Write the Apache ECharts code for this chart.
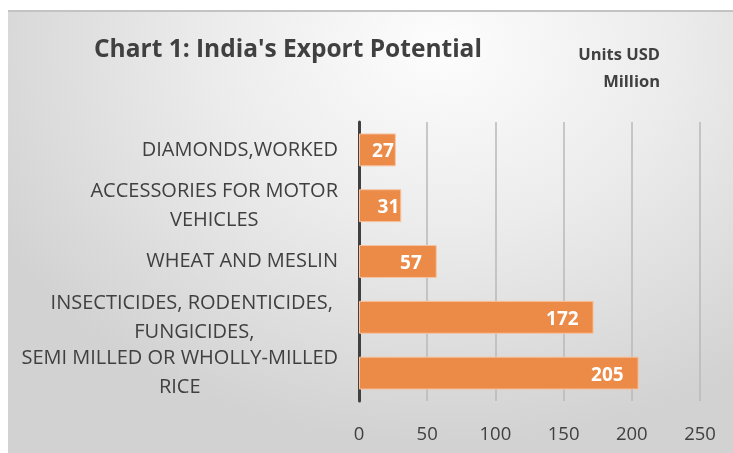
<!DOCTYPE html>
<html>
<head>
<meta charset="utf-8">
<script src="https://cdn.jsdelivr.net/npm/echarts@6/dist/echarts.min.js"></script>
<style>
  html, body { margin: 0; padding: 0; background: #fff; }
  #bg {
    position: absolute; left: 8px; top: 10px; width: 725px; height: 443px;
    box-sizing: border-box; border-top: 2px solid #c3c3c3;
    background: radial-gradient(ellipse 70% 90% at 60% 8%, #fdfdfd 0%, #ececec 45%, #d2d2d2 100%);
  }
  #main { position: absolute; left: 0; top: 0; width: 733px; height: 453px; }
</style>
</head>
<body>
<div id="bg"></div>
<div id="main"></div>
<script>
// Chart 1: India's Export Potential (USD million)
var categories = [
  'DIAMONDS,WORKED',
  'ACCESSORIES FOR MOTOR\nVEHICLES',
  'WHEAT AND MESLIN',
  'INSECTICIDES, RODENTICIDES, \nFUNGICIDES,',
  'SEMI MILLED OR WHOLLY-MILLED\nRICE'
];
var exportValues = [27, 31, 57, 172, 205];
var xTicks = { min: 0, max: 250, interval: 50 };

var FONT = '"Open Sans", sans-serif';
var chart = echarts.init(document.getElementById('main'));

var option = {
  backgroundColor: 'transparent',
  title: [
    {
      text: "Chart 1: India's Export Potential",
      left: 89, top: 33,
      textStyle: { fontFamily: FONT, fontSize: 24.5, fontWeight: 'bold', color: '#404040' }
    },
    {
      text: '{r|Units USD}\n{r|Million}',
      right: 68, top: 37,
      textStyle: {
        rich: {
          r: { align: 'right', fontFamily: FONT, fontSize: 16.5, fontWeight: 'bold', color: '#404040', lineHeight: 27 }
        }
      }
    }
  ],
  grid: { left: 359, right: 33, top: 122, bottom: 52 },
  xAxis: {
    type: 'value',
    min: xTicks.min, max: xTicks.max, interval: xTicks.interval,
    axisLine: { show: false },
    axisTick: { show: false },
    splitLine: { lineStyle: { color: '#b8b8b8', width: 1.5 } },
    axisLabel: { fontFamily: FONT, fontSize: 18.5, color: '#404040', margin: 24 }
  },
  yAxis: {
    type: 'category',
    inverse: true,
    data: categories,
    axisLine: { lineStyle: { color: '#404040', width: 3 } },
    axisTick: { show: false },
    axisLabel: {
      margin: 21,
      color: '#404040',
      fontFamily: FONT,
      fontSize: 20,
      formatter: function (v) {
        return v.split('\n').map(function (l) { return '{c|' + l + '}'; }).join('\n');
      },
      rich: {
        c: { align: 'center', fontFamily: FONT, fontSize: 20, color: '#404040', lineHeight: 29 }
      }
    }
  },
  series: [{
    type: 'bar',
    barCategoryGap: '41%',
    data: exportValues.map(function (v) {
      return { value: v, label: { distance: v < 40 ? 2 : 15 } };
    }),
    itemStyle: { color: '#ec8a48', borderColor: '#f6c4a0', borderWidth: 1 },
    label: {
      show: true,
      position: 'insideRight',
      offset: [0, 2],
      color: '#fff',
      fontFamily: FONT,
      fontWeight: 'bold',
      fontSize: 19
    }
  }]
};

chart.setOption(option);
</script>
</body>
</html>
